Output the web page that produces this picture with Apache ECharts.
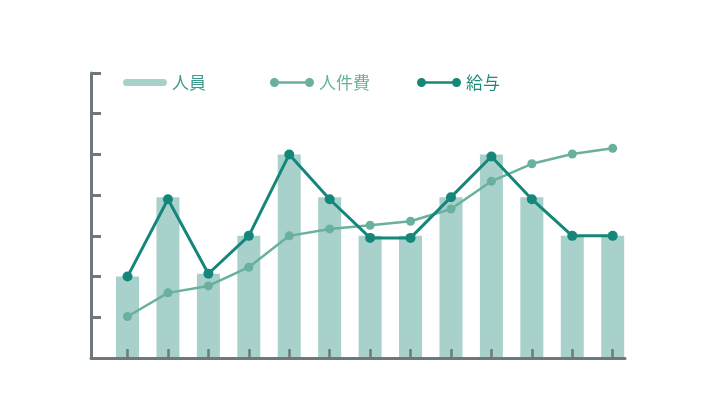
<!DOCTYPE html>
<html><head><meta charset="utf-8">
<script src="https://cdn.jsdelivr.net/npm/echarts@6/dist/echarts.min.js"></script>
<style>html,body{margin:0;padding:0;background:#fff}#c{width:704px;height:403px}</style>
</head><body><div id="c"></div>
<script>
const categories = ['1','2','3','4','5','6','7','8','9','10','11','12','13'];
const staff = [2, 3.95, 2.07, 3, 5, 3.95, 3, 3, 3.95, 5, 3.95, 3, 3];
const personnelCost = [1.02, 1.6, 1.77, 2.23, 3.0, 3.17, 3.26, 3.36, 3.66, 4.34, 4.77, 5.01, 5.15];
const salary = [2, 3.9, 2.07, 3, 5, 3.9, 2.95, 2.95, 3.95, 4.95, 3.9, 3, 3];
const seriesNames = ['人員', '人件費', '給与'];

const axisColor = '#6e777b';
const barColor = '#a7d1ca';
const costColor = '#69b09e';
const salaryColor = '#15877a';

const pos = categories.map((c, i) => i + 1);
const toPairs = arr => arr.map((v, i) => [pos[i], v]);
const capsule = 'path://M3.5,1 L40.5,1 A3.5,3.5 0 0 1 40.5,8 L3.5,8 A3.5,3.5 0 0 1 3.5,1 Z M0,0 L0.01,0 M44,9 L44,9.01';
const dotLine = 'path://M4.5,0 A4.5,4.5 0 1 1 4.5,9 A4.5,4.5 0 1 1 4.5,0 Z M39.5,0 A4.5,4.5 0 1 1 39.5,9 A4.5,4.5 0 1 1 39.5,0 Z M4.5,3.25 L39.5,3.25 L39.5,5.75 L4.5,5.75 Z';

const legendBase = {
  top: 69, itemWidth: 44, itemHeight: 9, itemGap: 0,
  selectedMode: false
};
const textBase = {fontSize: 17, fontFamily: 'Noto Sans CJK JP', padding: [8, 0, 0, 0]};
const chart = echarts.init(document.getElementById('c'), null, {renderer: 'canvas'});
chart.setOption({
  backgroundColor: '#fff',
  animation: false,
  legend: [
    Object.assign({}, legendBase, {left: 118, data: [{name: seriesNames[0], icon: capsule}],
      textStyle: Object.assign({color: '#3b9a8b'}, textBase)}),
    Object.assign({}, legendBase, {left: 265, data: [{name: seriesNames[1], icon: dotLine, itemStyle: {color: costColor, borderWidth: 0}}],
      textStyle: Object.assign({color: '#6aae9e'}, textBase)}),
    Object.assign({}, legendBase, {left: 412, data: [{name: seriesNames[2], icon: dotLine, itemStyle: {color: salaryColor, borderWidth: 0}}],
      textStyle: Object.assign({color: '#1f8a7c'}, textBase)})
  ],
  grid: {left: 91, right: 79, top: 73, bottom: 45, containLabel: false},
  xAxis: {
    type: 'value', min: 0.097, max: 13.304, z: 5,
    axisLine: {show: true, lineStyle: {color: axisColor, width: 3}},
    axisTick: {show: true, inside: true, length: 9, customValues: pos, lineStyle: {color: axisColor, width: 2.5}},
    axisLabel: {show: false},
    splitLine: {show: false}
  },
  yAxis: {
    type: 'value', min: 0, max: 7, interval: 1,
    axisLine: {show: true, lineStyle: {color: axisColor, width: 3}},
    axisTick: {show: true, inside: true, length: 10, lineStyle: {color: axisColor, width: 3}},
    axisLabel: {show: false},
    splitLine: {show: false}
  },
  series: [
    {name: seriesNames[0], type: 'bar', data: toPairs(staff), barWidth: 23,
      itemStyle: {color: barColor}},
    {name: seriesNames[1], type: 'line', data: toPairs(personnelCost),
      symbol: 'circle', symbolSize: 9,
      lineStyle: {color: costColor, width: 2.5}, itemStyle: {color: costColor}},
    {name: seriesNames[2], type: 'line', data: toPairs(salary),
      symbol: 'circle', symbolSize: 10,
      lineStyle: {color: salaryColor, width: 3}, itemStyle: {color: salaryColor}}
  ]
});
</script></body></html>
